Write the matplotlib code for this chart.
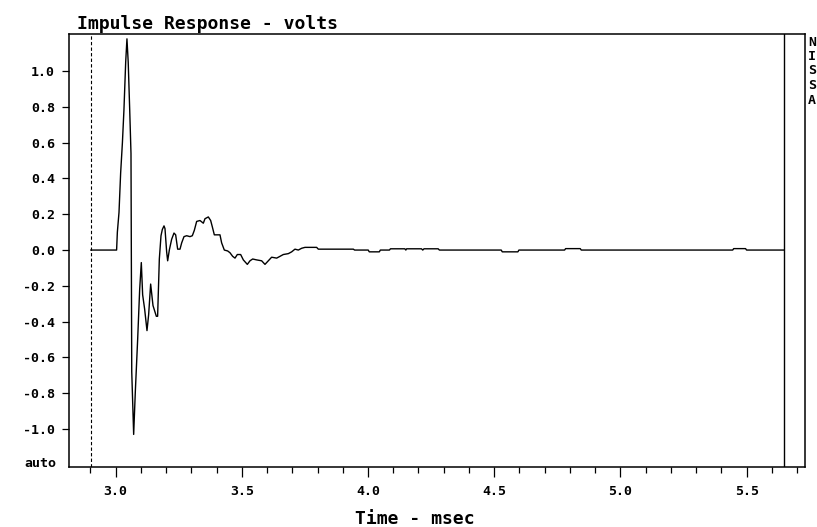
import matplotlib
matplotlib.use("Agg")
import matplotlib.pyplot as plt
from matplotlib.ticker import MultipleLocator, FixedLocator

# ---- data ----
time_ms = [2.902, 3.004, 3.007, 3.0135, 3.020, 3.027, 3.033, 3.040, 3.045, 3.050,
           3.056, 3.061, 3.064, 3.0716, 3.0782, 3.0874, 3.0954, 3.1019, 3.1072, 3.1151,
           3.1244, 3.1310, 3.1389, 3.1482, 3.1614, 3.1665, 3.1733, 3.1799, 3.1852, 3.1918,
           3.1957, 3.2023, 3.2063, 3.2129, 3.2221, 3.2314, 3.2380, 3.2459, 3.2552, 3.2618,
           3.2710, 3.2816, 3.2948, 3.3040, 3.3119, 3.3212, 3.3344, 3.3476, 3.3542, 3.3674,
           3.3767, 3.3832, 3.3912, 3.4136, 3.4202, 3.4308, 3.4440, 3.4532, 3.4638, 3.4731,
           3.4823, 3.4955, 3.5061, 3.5219, 3.5325, 3.5431, 3.5589, 3.5787, 3.5919, 3.6051,
           3.6183, 3.6382, 3.6514, 3.6645, 3.6844, 3.6976, 3.7107, 3.7240, 3.7372, 3.7504,
           3.7966, 3.8032, 3.942, 3.947, 4.001, 4.005, 4.045, 4.049, 4.085, 4.089,
           4.146, 4.150, 4.153, 4.212, 4.217, 4.222, 4.278, 4.283, 4.528, 4.532,
           4.594, 4.598, 4.779, 4.783, 4.841, 4.845, 5.445, 5.449, 5.496, 5.500,
           5.648]
volts = [0.0, 0.0, 0.10, 0.21, 0.43, 0.60, 0.78, 1.05, 1.18, 1.05,
         0.78, 0.54, -0.68, -1.03, -0.79, -0.50, -0.22, -0.07, -0.25, -0.33,
         -0.45, -0.36, -0.19, -0.31, -0.37, -0.37, -0.05, 0.08, 0.115, 0.135,
         0.12, -0.01, -0.06, 0.0, 0.06, 0.095, 0.085, 0.005, 0.005, 0.04,
         0.075, 0.08, 0.075, 0.08, 0.11, 0.16, 0.165, 0.15, 0.175, 0.185,
         0.165, 0.13, 0.085, 0.085, 0.04, 0.0, -0.005, -0.015, -0.035, -0.045,
         -0.025, -0.025, -0.055, -0.08, -0.06, -0.05, -0.055, -0.06, -0.08, -0.06,
         -0.04, -0.045, -0.035, -0.025, -0.02, -0.01, 0.005, 0.0, 0.01, 0.015,
         0.015, 0.005, 0.005, 0.0, 0.0, -0.01, -0.01, 0.0, 0.0, 0.007,
         0.007, 0.0, 0.007, 0.007, 0.0, 0.007, 0.007, 0.0, 0.0, -0.01,
         -0.01, 0.0, 0.0, 0.008, 0.008, 0.0, 0.0, 0.008, 0.008, 0.0,
         0.0]

start_marker = 2.902
end_marker = 5.648

x_major = [3.0, 3.5, 4.0, 4.5, 5.0, 5.5]
x_labels = ["3.0", "3.5", "4.0", "4.5", "5.0", "5.5"]
y_ticks = [1.0, 0.8, 0.6, 0.4, 0.2, 0.0, -0.2, -0.4, -0.6, -0.8, -1.0]
y_labels = ["1.0", "0.8", "0.6", "0.4", "0.2", "0.0", "-0.2", "-0.4", "-0.6", "-0.8", "-1.0"]

title = "Impulse Response - volts"
xlabel = "Time - msec"
side_letters = ["N", "I", "S", "S", "A"]

# ---- figure ----
W, H = 817, 527
fig = plt.figure(figsize=(W / 100, H / 100), dpi=100)
left, right, top, bottom = 69, 805, 34, 467
ax = fig.add_axes([left / W, (H - bottom) / H, (right - left) / W, (bottom - top) / H])

mono = "DejaVu Sans Mono"
ax.plot(time_ms, volts, color="black", lw=1.0)
ax.axvline(start_marker, color="black", lw=0.8, ls=(0, (3, 2)))
ax.axvline(end_marker, color="black", lw=1.0)

ax.set_xlim(2.8154, 5.7315)
ax.set_ylim(-1.212, 1.207)

ax.xaxis.set_major_locator(FixedLocator(x_major))
ax.set_xticklabels(x_labels)
ax.xaxis.set_minor_locator(MultipleLocator(0.1))
ax.set_yticks(y_ticks)
ax.set_yticklabels(y_labels)

for lab in ax.get_xticklabels() + ax.get_yticklabels():
    lab.set_fontfamily(mono)
    lab.set_fontweight("bold")
    lab.set_fontsize(9.5)

ax.tick_params(axis="x", which="major", direction="out", length=7, width=0.9, pad=6, color="black")
ax.tick_params(axis="x", which="minor", direction="out", length=4.5, width=0.9, color="black")
ax.tick_params(axis="y", which="major", direction="out", length=5, width=0.9, pad=5, color="black")
ax.tick_params(top=False, right=False)

for s in ax.spines.values():
    s.set_linewidth(1.1)
    s.set_color("black")

# "auto" label at the bottom of the y axis
ax.text(-0.0165, -1.195, "auto", transform=ax.get_yaxis_transform(), ha="right", va="center",
        fontfamily=mono, fontweight="bold", fontsize=9.5)

fig.text(77 / W, 1 - 29 / H, title, ha="left", va="baseline",
         fontfamily=mono, fontweight="bold", fontsize=13)
fig.text(415 / W, 1 - 524 / H, xlabel, ha="center", va="baseline",
         fontfamily=mono, fontweight="bold", fontsize=13)

for i, ch in enumerate(side_letters):
    fig.text(808 / W, 1 - (42 + 14.5 * i) / H, ch, ha="left", va="center",
             fontfamily=mono, fontweight="bold", fontsize=9.5)

fig.savefig("out.png", dpi=100, facecolor="white")
